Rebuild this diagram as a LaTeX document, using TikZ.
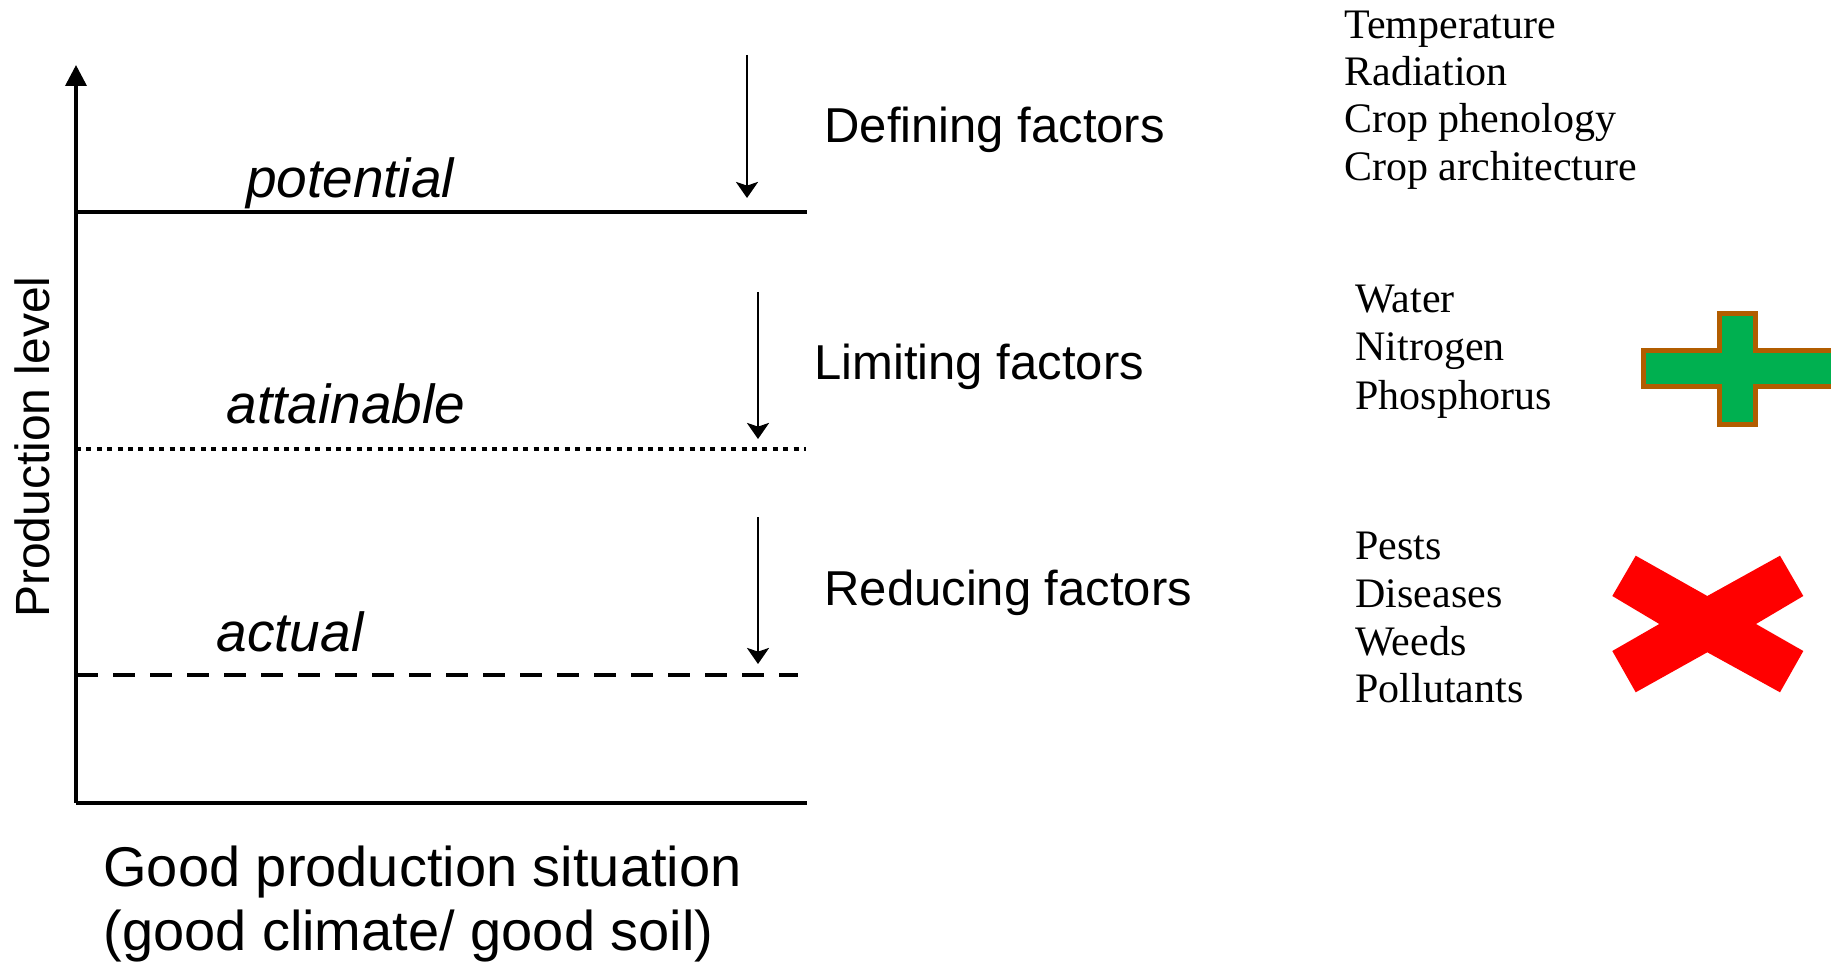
\documentclass[tikz,border=0pt]{standalone}
\usepackage{fontspec}
\setmainfont{Liberation Serif}
\setsansfont{Liberation Sans}
\usetikzlibrary{arrows.meta}
\definecolor{plusgreen}{RGB}{0,176,80}
\definecolor{plusbrown}{RGB}{178,93,0}
\definecolor{xred}{RGB}{255,0,0}
\begin{document}
\begin{tikzpicture}[x=0.5pt,y=-0.5pt,
  lbl/.style={font=\sffamily\fontsize{24.5}{28}\selectfont, inner sep=0, anchor=base west},
  lvl/.style={font=\sffamily\itshape\fontsize{27.5}{32}\selectfont, inner sep=0, anchor=base},
  big/.style={font=\sffamily\fontsize{28}{32}\selectfont, inner sep=0, anchor=base west},
  fac/.style={font=\rmfamily\fontsize{21}{24}\selectfont, inner sep=0, anchor=base west},
  ax/.style={line width=1.8pt},
  lev/.style={line width=2.2pt},
  dn/.style={line width=1.25pt, -{Stealth[length=8pt,width=11pt,inset=1.8pt]}}
]
\useasboundingbox (0,0) rectangle (1831,962);
\clip (0,0) rectangle (1831,962);

% axes
\coordinate (O) at (76,803);
\coordinate (Ytop) at (76,65);
\coordinate (Xend) at (807,803);
\draw[ax,-{Triangle[length=10.5pt,width=10.5pt]}] (O) -- (Ytop);
\draw[ax] (O) -- (Xend);

% levels
\coordinate (potL) at (76,212);
\coordinate (potR) at (807,212);
\coordinate (attL) at (76,449);
\coordinate (attR) at (806,449);
\coordinate (actL) at (76,675);
\coordinate (actR) at (798,675);
\draw[ax] (potL) -- (potR);
\draw[lev, dash pattern=on 2.5pt off 2.7pt] (attL) -- (attR);
\draw[lev, dash pattern=on 11pt off 7.5pt] (actL) -- (actR);

% arrows
\coordinate (a1s) at (747,55);  \coordinate (a1e) at (747,198);
\coordinate (a2s) at (758,292); \coordinate (a2e) at (758,439);
\coordinate (a3s) at (758,517); \coordinate (a3e) at (758,664);
\draw[dn] (a1s) -- (a1e);
\draw[dn] (a2s) -- (a2e);
\draw[dn] (a3s) -- (a3e);

% level labels
\node[lvl] (potential) at (350,198) {potential};
\node[lvl] (attainable) at (346,424) {attainable};
\node[lvl] (actual) at (290,651) {actual};

% factor labels
\node[lbl] (defining) at (824,143) {Defining factors};
\node[lbl] (limiting) at (814,380) {Limiting factors};
\node[lbl] (reducing) at (824,605) {Reducing factors};

% axis labels
\node[font=\sffamily\fontsize{24}{28}\selectfont, inner sep=0, anchor=base, rotate=90] (ylabel) at (49,447) {Production level};
\node[big] (good1) at (103,886) {Good production situation};
\node[big] (good2) at (103,950) {(good climate/ good soil)};

% factor lists
\node[fac] (t1) at (1344,38.5) {Temperature};
\node[fac] (t2) at (1344,86) {Radiation};
\node[fac] (t3) at (1344,133) {Crop phenology};
\node[fac] (t4) at (1344,180.5) {Crop architecture};

\node[fac] (m1) at (1355,313) {Water};
\node[fac] (m2) at (1355,361) {Nitrogen};
\node[fac] (m3) at (1355,410) {Phosphorus};

\node[fac] (b1) at (1355,559) {Pests};
\node[fac] (b2) at (1355,607.5) {Diseases};
\node[fac] (b3) at (1355,655.5) {Weeds};
\node[fac] (b4) at (1355,702) {Pollutants};

% plus sign
\draw[line width=2.5pt, draw=plusbrown, fill=plusgreen]
  (1719.5,313.5) -- (1755.5,313.5) -- (1755.5,350.5) -- (1850,350.5) -- (1850,386.5)
  -- (1755.5,386.5) -- (1755.5,424.5) -- (1719.5,424.5) -- (1719.5,386.5)
  -- (1643.5,386.5) -- (1643.5,350.5) -- (1719.5,350.5) -- cycle;

% cross
\fill[xred] (1635.7,555.7) -- (1707.3,596) -- (1780,555.7) -- (1803.3,596) -- (1756,624)
  -- (1803.3,651) -- (1780,692.3) -- (1707.3,652.3) -- (1635.7,692.3) -- (1612.3,651)
  -- (1659.3,624) -- (1612.3,596) -- cycle;
\end{tikzpicture}
\end{document}
